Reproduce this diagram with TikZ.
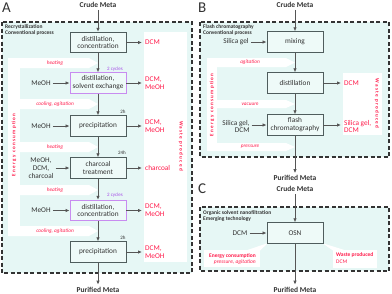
\documentclass[tikz,border=0pt]{standalone}
\usepackage{fontspec}
\setmainfont{Carlito}
\newfontfamily\spcfont[LetterSpace=25]{Carlito}
\usetikzlibrary{arrows.meta}
\definecolor{bgc}{HTML}{E6F7F5}
\definecolor{boxfill}{HTML}{EEFAF8}
\definecolor{boxc}{HTML}{4F5D5D}
\definecolor{purp}{HTML}{C88CF0}
\definecolor{purt}{HTML}{A64CE8}
\definecolor{redt}{HTML}{FF1A4A}
\definecolor{arrc}{HTML}{555555}
\definecolor{dashc}{HTML}{333333}
\definecolor{txtc}{HTML}{333333}
\newcommand\mybanner[4]{\fill[white] (#1,#2) -- (#3-9,#2) -- (#3,{(#2+#4)/2}) -- (#3-9,#4) -- (#1,#4) -- cycle;}
\tikzset{
  stepbox/.style={draw=boxc, fill=boxfill, line width=0.9pt, minimum width=56pt, minimum height=20.5pt,
    inner sep=1pt, align=center, text=txtc, font=\fontsize{7.3}{7.9}\selectfont},
  pbox/.style={stepbox, draw=purp},
  intxt/.style={font=\fontsize{7.3}{7.9}\selectfont, align=center, text=txtc, inner sep=2pt},
  outtxt/.style={font=\fontsize{7.3}{7.9}\selectfont, align=left, text=redt, anchor=west, inner sep=3pt},
  engtxt/.style={font=\fontsize{5.3}{6}\selectfont\itshape, text=redt, inner sep=0pt},
  cyc/.style={font=\fontsize{5}{6}\selectfont, text=purt, inner sep=0pt},
  hrs/.style={font=\fontsize{5}{6}\selectfont, text=txtc, inner sep=0pt},
  ttl/.style={font=\fontsize{5.5}{6.3}\selectfont\bfseries, align=left, anchor=north west, inner sep=0pt, text=txtc},
  endtxt/.style={font=\fontsize{7.5}{8}\selectfont\bfseries, text=txtc, inner sep=2pt},
  vlab/.style={font=\fontsize{5.1}{6}\spcfont\bfseries, text=redt, inner sep=0pt},
  panel/.style={font=\fontsize{15}{15}\selectfont, anchor=north west, inner sep=0pt, text=txtc},
  flow/.style={draw=arrc, line width=0.9pt, -{Latex[length=4pt,width=3.5pt]}},
  dbox/.style={draw=dashc, line width=1.3pt, dash pattern=on 4pt off 2.5pt},
  cbold/.style={font=\fontsize{5.5}{6}\selectfont\bfseries, text=redt, inner sep=0pt},
  cital/.style={font=\fontsize{5.5}{6}\selectfont\itshape, text=redt, inner sep=0pt},
  cplain/.style={font=\fontsize{5.5}{6}\selectfont, text=redt, inner sep=0pt},
}
\begin{document}
\begin{tikzpicture}[x=1pt,y=-1pt]
\useasboundingbox[fill=white] (0,0) rectangle (392,293);

% ================= Panel A =================
\fill[bgc] (2,22) rectangle (192,273);
\fill[white] (144,32) rectangle (187,262);
\fill[white] (8,58) rectangle (20,236);
\mybanner{8}{58}{98}{68}
\mybanner{8}{99}{98}{109}
\mybanner{8}{142}{98}{152}
\mybanner{8}{185}{98}{195}
\mybanner{8}{226}{98}{236}
\draw[dbox] (2,22) rectangle (192,273);

\node[panel] (pA) at (2,3) {A};
\node[ttl] (tA) at (5,24.5) {Recrystallization\\Conventional process};
\node[endtxt] (cA) at (98,5) {Crude Meta};
\node[endtxt] (eA) at (98,289.5) {Purified Meta};

\node[stepbox] (a1) at (98,42.5) {distillation,\\concentration};
\node[pbox] (a2) at (98,83) {distillation,\\solvent exchange};
\node[stepbox] (a3) at (98,126) {precipitation};
\node[stepbox] (a4) at (98,168) {charcoal\\treatment};
\node[pbox] (a5) at (98,210.5) {distillation,\\concentration};
\node[stepbox] (a6) at (98,252) {precipitation};

\node[intxt] (ai2) at (41,83) {MeOH};
\node[intxt] (ai3) at (41,126) {MeOH};
\node[intxt] (ai4) at (41,168) {MeOH,\\DCM,\\charcoal};
\node[intxt] (ai5) at (41,210.5) {MeOH};

\node[outtxt] (ao1) at (142,42.5) {DCM};
\node[outtxt] (ao2) at (142,83) {DCM,\\MeOH};
\node[outtxt] (ao3) at (142,126) {DCM,\\MeOH};
\node[outtxt] (ao4) at (142,168) {charcoal};
\node[outtxt] (ao5) at (142,210.5) {DCM,\\MeOH};
\node[outtxt] (ao6) at (142,252) {DCM,\\MeOH};

\node[cyc] (cy1) at (115,69.5) {2 cycles};
\node[hrs] (h1) at (123,112) {2h};
\node[hrs] (h2) at (122,153) {24h};
\node[cyc] (cy2) at (115,195.5) {2 cycles};
\node[hrs] (h3) at (123,238) {2h};

\node[engtxt] (ea1) at (55,63) {heating};
\node[engtxt] (ea2) at (55,104) {cooling, agitation};
\node[engtxt] (ea3) at (55,147) {heating};
\node[engtxt] (ea4) at (55,190) {heating};
\node[engtxt] (ea5) at (55,231) {cooling, agitation};

\node[vlab, rotate=90] (enA) at (14,145) {Energy consumption};
\node[vlab, rotate=-90] (wpA) at (181,146) {Waste produced};

\draw[flow] (cA) -- (a1);
\draw[flow] (a1) -- (a2);
\draw[flow] (a2) -- (a3);
\draw[flow] (a3) -- (a4);
\draw[flow] (a4) -- (a5);
\draw[flow] (a5) -- (a6);
\draw[flow] (a6) -- (eA);
\draw[flow] (ai2) -- (a2);
\draw[flow] (ai3) -- (a3);
\draw[flow] (ai4) -- (a4);
\draw[flow] (ai5) -- (a5);
\draw[flow] (a1) -- (ao1);
\draw[flow] (a2) -- (ao2);
\draw[flow] (a3) -- (ao3);
\draw[flow] (a4) -- (ao4);
\draw[flow] (a5) -- (ao5);
\draw[flow] (a6) -- (ao6);

% ================= Panel B =================
\fill[bgc] (200,22) rectangle (389,157);
\fill[white] (343,73) rectangle (382,135);
\fill[white] (207,58) rectangle (217,151);
\mybanner{207}{58}{295}{67}
\mybanner{207}{100}{295}{108}
\mybanner{207}{143}{295}{151}
\draw[dbox] (200,22) rectangle (389,157);

\node[panel] (pB) at (198,3) {B};
\node[ttl] (tB) at (203,24.5) {Flash chromatography\\Conventional process};
\node[endtxt] (cB) at (295,5) {Crude Meta};
\node[endtxt] (eB) at (295,178) {Purified Meta};

\node[stepbox] (b1) at (295,42) {mixing};
\node[stepbox] (b2) at (295,83) {distillation};
\node[stepbox] (b3) at (295,125) {flash\\chromatography};

\node[intxt, align=right] (bi1) at (236,42) {Silica gel};
\node[intxt, align=right] (bi3) at (236,126.5) {Silica gel,\\DCM};
\node[outtxt] (bo2) at (341,83) {DCM};
\node[outtxt] (bo3) at (341,126.5) {Silica gel,\\DCM};

\node[engtxt] (eb1) at (250,62.5) {agitation};
\node[engtxt] (eb2) at (250,104) {vacuum};
\node[engtxt] (eb3) at (250,147) {pressure};

\node[vlab, rotate=90] (enB) at (212,105) {Energy consumption};
\node[vlab, rotate=-90] (wpB) at (377,103.5) {Waste produced};

\draw[flow] (cB) -- (b1);
\draw[flow] (b1) -- (b2);
\draw[flow] (b2) -- (b3);
\draw[flow] (b3) -- (eB);
\draw[flow] (bi1) -- (b1);
\draw[flow] (bi3.east |- b3) -- (b3);
\draw[flow] (b2) -- (bo2);
\draw[flow] (b3) -- (bo3.west |- b3);

% ================= Panel C =================
\fill[bgc] (200,207) rectangle (389,271);
\fill[white] (204,250) rectangle (260,267);
\fill[white] (246,250.5) -- (268,243) -- (260,250.5) -- cycle;
\fill[white] (333,250) rectangle (377,268);
\fill[white] (322,243) -- (333,250.5) -- (346,250.5) -- cycle;
\draw[dbox] (200,207) rectangle (389,271);

\node[panel] (pC) at (198,184) {C};
\node[ttl] (tC) at (203,210) {Organic solvent nanofiltration\\Emerging technology};
\node[endtxt] (cC) at (295,189) {Crude Meta};
\node[endtxt] (eC) at (295,289.5) {Purified Meta};

\node[stepbox] (c1) at (295,233) {OSN};
\node[intxt] (ci) at (240,233) {DCM};

\node[cbold, anchor=east] (ec1) at (256,256) {Energy consumption};
\node[cital, anchor=east] (ec2) at (256,262.5) {pressure, agitation};
\node[cbold, anchor=west] (wc1) at (336,254.5) {Waste produced};
\node[cplain, anchor=west] (wc2) at (336,262) {DCM};

\draw[flow] (cC) -- (c1);
\draw[flow] (c1) -- (eC);
\draw[flow] (ci) -- (c1);
\end{tikzpicture}
\end{document}
